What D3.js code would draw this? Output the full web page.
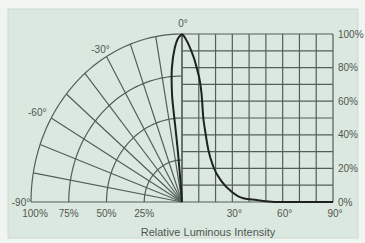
<!DOCTYPE html>
<html>
<head>
<meta charset="utf-8">
<script src="https://cdn.jsdelivr.net/npm/d3@7"></script>
<style>
  body { margin: 0; background: #f2f6f3; }
  text { font-family: "Liberation Sans", Arial, sans-serif; fill: #50564f; }
</style>
</head>
<body>
<div id="chart"></div>
<script>
// cartesian half: relative intensity (%) against angle (deg)
const beamAngles    = [0, 2, 4.8, 8.8, 11.7, 12.7, 13.7, 15.7, 18.7, 23.7, 29.6, 36.5, 44.5, 50, 60, 90];
const beamIntensity = [100, 97.5, 91.7, 79.8, 63.9, 50, 42.9, 31, 21, 12.1, 6.1, 2.2, 1.2, 0.5, 0, 0];
// polar half (left lobe), angle in deg, intensity in %
const lobeAngles    = [0, -4.6, -4.9, -5.2, -5.6, -5.9, -5.9, -4.8, -3.0, -1.5, 0];
const lobeIntensity = [0, 8, 16, 31, 43, 55, 64, 80, 91.8, 97.5, 100];

const xTicks = [30, 60, 90];
const xTickLabels = ["30°", "60°", "90°"];
const yTicks = [0, 20, 40, 60, 80, 100];
const yTickLabels = ["0%", "20%", "40%", "60%", "80%", "100%"];
const ringValues = [25, 50, 75, 100];
const ringLabels = ["25%", "50%", "75%", "100%"];
const spokeAngles = [-90, -80, -70, -60, -50, -40, -30, -20, -10, 0];
const angleLabels = ["-90°", "-60°", "-30°", "0°"];
const angleLabelAt = [-90, -60, -30, 0];
const axisTitle = "Relative Luminous Intensity";

const W = 365, H = 243;
const cx = 182, cy = 202;

const svg = d3.select("#chart").append("svg")
    .attr("width", W).attr("height", H);

// frame
svg.append("rect").attr("width", W).attr("height", H).attr("fill", "#f0f5f1");
svg.append("rect")
    .attr("x", 8).attr("y", 9).attr("width", 350).attr("height", 229)
    .attr("fill", "#dbe8df").attr("stroke", "#cddad1").attr("stroke-width", 1);

const xScale = d3.scaleLinear().domain([0, 90]).range([cx, 333]);
const yScale = d3.scaleLinear().domain([0, 100]).range([cy, 34]);
// polar radius scales (ellipse, same extents as the cartesian grid)
const rx = d3.scaleLinear().domain([0, 100]).range([0, xScale(90) - cx]);
const ry = d3.scaleLinear().domain([0, 100]).range([0, cy - yScale(100)]);

const polarPoint = (deg, r) => {
    const a = deg * Math.PI / 180;
    return [cx + rx(r) * Math.sin(a), cy - ry(r) * Math.cos(a)];
};

const gridColor = "#525e56";
const grid = svg.append("g").attr("stroke", gridColor).attr("fill", "none").attr("stroke-width", 1.2);

// cartesian grid
d3.range(0, 91, 10).forEach(d => {
    grid.append("line")
        .attr("x1", xScale(d)).attr("x2", xScale(d))
        .attr("y1", yScale(0)).attr("y2", yScale(100));
});
d3.range(0, 101, 10).forEach(d => {
    grid.append("line")
        .attr("x1", xScale(0)).attr("x2", xScale(90))
        .attr("y1", yScale(d)).attr("y2", yScale(d));
});

// polar grid
const arcLine = d3.line();
ringValues.forEach(r => {
    const pts = d3.range(-90, 0.1, 2).map(a => polarPoint(a, r));
    grid.append("path").attr("d", arcLine(pts));
});
spokeAngles.forEach(a => {
    const p = polarPoint(a, 100);
    grid.append("line")
        .attr("x1", cx).attr("y1", cy)
        .attr("x2", p[0]).attr("y2", p[1]);
});

// curves
const curveG = svg.append("g").attr("fill", "none").attr("stroke", "#1e221f")
    .attr("stroke-width", 2).attr("stroke-linejoin", "round");

const beamLine = d3.line()
    .x(d => xScale(d[0])).y(d => yScale(d[1]))
    .curve(d3.curveMonotoneX);
curveG.append("path")
    .attr("d", beamLine(beamAngles.map((a, i) => [a, beamIntensity[i]])));

const lobeLine = d3.line().curve(d3.curveCatmullRom.alpha(0.5));
curveG.append("path")
    .attr("d", lobeLine(lobeAngles.map((a, i) => polarPoint(a, lobeIntensity[i]))));

// labels
const fs = 10;
svg.selectAll(".xTick").data(xTicks).join("text")
    .attr("class", "xTick")
    .attr("x", d => xScale(d) + 2).attr("y", 217)
    .attr("text-anchor", "middle").attr("font-size", fs)
    .text((d, i) => xTickLabels[i]);

svg.selectAll(".yTick").data(yTicks).join("text")
    .attr("class", "yTick")
    .attr("x", 338).attr("y", d => yScale(d) + 3.5)
    .attr("font-size", fs)
    .text((d, i) => yTickLabels[i]);

svg.selectAll(".ringLabel").data(ringValues).join("text")
    .attr("class", "ringLabel")
    .attr("x", d => cx - rx(d) + (d === 100 ? 4 : 0)).attr("y", 217)
    .attr("text-anchor", "middle").attr("font-size", fs)
    .text((d, i) => ringLabels[i]);

const angleOffsets = { "-90": [-10, 4], "-60": [-14, -2], "-30": [-6, -4], "0": [1, -7] };
svg.selectAll(".angleLabel").data(angleLabelAt).join("text")
    .attr("class", "angleLabel")
    .attr("x", d => polarPoint(d, 100)[0] + angleOffsets[d][0])
    .attr("y", d => polarPoint(d, 100)[1] + angleOffsets[d][1])
    .attr("text-anchor", "middle").attr("font-size", fs)
    .text((d, i) => angleLabels[i]);

svg.append("text")
    .attr("x", 208).attr("y", 236)
    .attr("text-anchor", "middle").attr("font-size", 11)
    .text(axisTitle);
</script>
</body>
</html>
